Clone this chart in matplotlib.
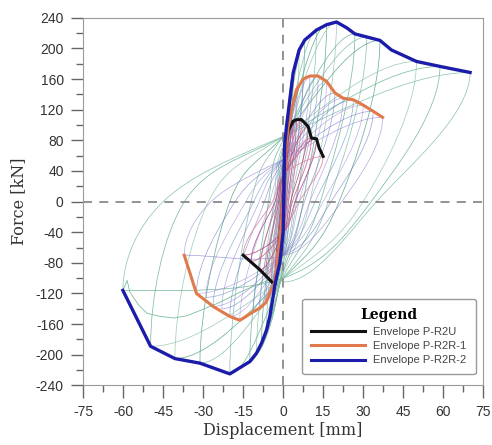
import matplotlib.pyplot as plt
from matplotlib.path import Path
from matplotlib.patches import PathPatch
from matplotlib.lines import Line2D

plt.rcParams['axes.unicode_minus'] = False

# ---- envelopes (displacement mm, force kN) ----
black_d = [-15.0, -8.75, -3.1, -1.9, -0.9, 0.0, 0.6, 1.9, 3.75, 5.0, 6.9, 9.4, 10.6, 12.5, 13.5, 15.0]
black_F = [-70, -89, -109, -80, -37, -5, 64, 92, 105, 107, 107, 98, 83, 82, 70, 59]

orange_d = [-37.1, -32.5, -26.25, -20.0, -16.25, -11.25, -8.75, -6.5, -4.4, -3.1, -1.5, 0.0, 1.0, 1.9, 3.1,
            5.0, 7.5, 10.0, 13.1, 16.3, 19.4, 22.5, 26.3, 30.0, 33.75, 37.3]
orange_F = [-70, -120, -137, -150, -155, -144, -139, -132, -114, -105, -60, 0, 70, 98, 120,
            146, 160, 164, 164, 157, 142, 135, 133, 126, 118, 110]

blue_d = [-60.1, -49.7, -40.6, -31.2, -20.0, -12.5, -10.0, -8.1, -6.25, -5.0, -3.75, -3.1, -1.25, 0.0,
          0.6, 1.25, 2.5, 3.75, 6.0, 8.1, 12.5, 16.3, 20.0, 23.8, 26.9, 31.3, 36.3, 40.6, 50.0, 58.8, 70.1]
blue_F = [-116, -189, -205, -211, -225, -209, -198, -185, -168, -150, -124, -109, -80, -40,
          76, 98, 133, 168, 198, 211, 224, 231, 234.5, 227, 219, 215, 210.5, 198, 183, 176.5, 168.6]

# ---- hysteresis cycles: peaks, zero-force crossings, force at zero displacement ----
g_pos_d = [1.25, 2.5, 3.75, 6.0, 8.1, 12.5, 16.3, 20.0, 26.9, 31.3, 36.3, 50.0, 58.8, 70.1]
g_pos_F = [98, 133, 168, 198, 211, 224, 231, 234.5, 219, 215, 210.5, 183, 176.5, 168.6]
g_unload_zero = [0.4, 0.8, 1.2, 2.0, 3.0, 5.0, 7.5, 10, 14, 17, 21, 30, 33, 35]
g_pinch_neg = [40, 55, 65, 75, 82, 88, 92, 95, 98, 100, 100, 100, 100, 105]
g_neg_d = [-1.25, -3.1, -3.75, -5.0, -6.25, -8.1, -10.0, -12.5, -20.0, -31.2, -40.6, -49.7, -60.1]
g_neg_F = [-80, -109, -124, -150, -168, -185, -198, -209, -225, -211, -205, -189, -116]
g_reload_zero = [-0.3, -0.6, -0.9, -1.3, -1.8, -2.5, -3.5, -5.5, -12, -20, -28, -37, -45]
g_pinch_pos = [30, 40, 50, 58, 65, 70, 75, 80, 85, 85, 85, 85, 85]
g_tail_d = [-60.1, -58.5, -57.5, -56, -54, -51, -46, -41, -36, -31, -24, -16, -8, -3]
g_tail_F = [-116, -103, -118, -126, -136, -146, -150, -152, -149, -142, -132, -118, -106, -100]

p_pos_d = [1.0, 1.9, 3.1, 5.0, 7.5, 10.0, 13.1, 16.3, 19.4, 22.5, 26.3, 30.0, 33.75, 37.3]
p_pos_F = [70, 98, 120, 146, 160, 164, 164, 157, 142, 135, 133, 126, 118, 110]
p_unload_zero = [0.3, 0.5, 0.8, 1.2, 2.0, 3.0, 4.5, 6, 8, 10, 12, 15, 18, 22]
p_pinch_neg = [25, 35, 45, 55, 60, 65, 68, 70, 70, 70, 70, 70, 70, 70]
p_neg_d = [-1.5, -3.1, -4.4, -6.5, -8.75, -11.25, -16.25, -20.0, -23.0, -26.25, -29.0, -32.5, -37.1]
p_neg_F = [-60, -105, -114, -132, -139, -144, -155, -150, -140, -137, -125, -120, -70]
p_reload_zero = [-0.3, -0.6, -0.9, -1.3, -2.0, -3.0, -5.0, -7, -9, -11, -14, -18, -27]
p_pinch_pos = [20, 28, 35, 40, 45, 48, 50, 52, 55, 55, 55, 55, 55]

r_pos_d = [0.3, 0.6, 1.2, 1.9, 3.75, 5.0, 6.9, 9.4, 10.6, 12.5, 15.0]
r_pos_F = [30, 64, 80, 92, 105, 107, 107, 98, 83, 82, 59]
r_unload_zero = [0.1, 0.2, 0.4, 0.6, 1.0, 1.5, 2.0, 2.8, 3.5, 4.5, 6.0]
r_pinch_neg = [10, 15, 20, 25, 30, 35, 38, 40, 40, 40, 40]
r_neg_d = [-0.3, -0.9, -1.5, -1.9, -3.1, -4.5, -6.5, -8.75, -12.0, -15.0]
r_neg_F = [-25, -37, -60, -80, -109, -104, -97, -89, -78, -70]
r_reload_zero = [-0.1, -0.2, -0.3, -0.5, -0.8, -1.2, -1.6, -2.2, -3.0, -4.0]
r_pinch_pos = [8, 12, 15, 20, 25, 28, 30, 32, 33, 35]


def branch(xs, ys):
    # smooth curve through the key points: leaves a peak vertically, reaches the next one flat
    n = len(xs)
    tx, ty = [], []
    for i in range(n):
        if i == 0:
            tx.append(0.0); ty.append(ys[1] - ys[0])
        elif i == n - 1:
            tx.append(xs[-1] - xs[-2]); ty.append(0.0)
        else:
            tx.append((xs[i + 1] - xs[i - 1]) / 2); ty.append((ys[i + 1] - ys[i - 1]) / 2)
    verts = [(xs[0], ys[0])]
    codes = [Path.MOVETO]
    for i in range(n - 1):
        verts += [(xs[i] + tx[i] / 3, ys[i] + ty[i] / 3),
                  (xs[i + 1] - tx[i + 1] / 3, ys[i + 1] - ty[i + 1] / 3),
                  (xs[i + 1], ys[i + 1])]
        codes += [Path.CURVE4] * 3
    return Path(verts, codes)


def draw_loops(ax, pos_d, pos_F, uz, pb, neg_d, neg_F, rz, pa, end, colors, lw, alpha):
    parts = [([0, pos_d[0]], [0, pos_F[0]])]
    for i in range(len(pos_d)):
        if i < len(neg_d):
            parts.append(([pos_d[i], uz[i], 0, neg_d[i]], [pos_F[i], 0, -pb[i], neg_F[i]]))
            if i + 1 < len(pos_d):
                parts.append(([neg_d[i], rz[i], 0, pos_d[i + 1]], [neg_F[i], 0, pa[i], pos_F[i + 1]]))
        else:
            parts.append(([pos_d[i], uz[i], end[0]], [pos_F[i], 0, end[1]]))
    for k, (xs, ys) in enumerate(parts):
        ax.add_patch(PathPatch(branch(xs, ys), fill=False, lw=lw, alpha=alpha,
                               edgecolor=colors[(k // 2) % len(colors)]))


fig = plt.figure(figsize=(4.92, 4.45), dpi=100)
ax = fig.add_axes([0.169, 0.134, 0.813, 0.826])

green = ['#6fb894', '#86bfae', '#5fa98a', '#9cc9b4']
purple = ['#6a6ec8', '#8a7cd4', '#6084c4', '#9a8ad8']
red = ['#c9587e', '#a8458c', '#de7d98', '#b94c62']

draw_loops(ax, g_pos_d, g_pos_F, g_unload_zero, g_pinch_neg, g_neg_d, g_neg_F,
           g_reload_zero, g_pinch_pos, (0, -105), green, 0.55, 0.9)
ax.plot(g_tail_d, g_tail_F, color='#6fb894', lw=0.55)
draw_loops(ax, p_pos_d, p_pos_F, p_unload_zero, p_pinch_neg, p_neg_d, p_neg_F,
           p_reload_zero, p_pinch_pos, (0, -70), purple, 0.5, 0.65)
draw_loops(ax, r_pos_d, r_pos_F, r_unload_zero, r_pinch_neg, r_neg_d, r_neg_F,
           r_reload_zero, r_pinch_pos, (0, -35), red, 0.6, 0.85)

ax.axhline(0, color='#8a8a8a', lw=1.3, ls=(0, (5, 4)), zorder=1)
ax.axvline(0, color='#8a8a8a', lw=1.3, ls=(0, (5, 4)), zorder=1)

ax.plot(black_d, black_F, color='#111111', lw=2.2, zorder=5)
ax.plot(orange_d, orange_F, color='#e07a4c', lw=2.2, zorder=5)
ax.plot(blue_d, blue_F, color='#1c1caa', lw=2.4, zorder=5)

ax.set_xlim(-75, 75)
ax.set_ylim(-240, 240)
ax.set_xticks(range(-75, 76, 15))
ax.set_xticks([x / 2 for x in range(-135, 136, 30)], minor=True)
ax.set_yticks(range(-240, 241, 40))
ax.set_yticks(range(-220, 221, 40), minor=True)
ax.tick_params(which='major', length=9, width=1, color='#666666', labelcolor='#333333',
               labelsize=10, pad=5)
ax.tick_params(which='minor', length=5, width=1, color='#666666')
for lab in ax.get_xticklabels() + ax.get_yticklabels():
    lab.set_family('Liberation Sans')
for s in ax.spines.values():
    s.set_color('#9a9a9a')

ax.set_xlabel('Displacement [mm]', family='DejaVu Serif', fontsize=11.5, color='#333333')
ax.set_ylabel('Force [kN]', family='DejaVu Serif', fontsize=11.5, color='#333333')
ax.xaxis.set_label_coords(0.5, -0.1)
ax.yaxis.set_label_coords(-0.14, 0.5)

handles = [Line2D([], [], color='#111111', lw=2.2),
           Line2D([], [], color='#e07a4c', lw=2.2),
           Line2D([], [], color='#1c1caa', lw=2.2)]
leg = ax.legend(handles, ['Envelope P-R2U', 'Envelope P-R2R-1', 'Envelope P-R2R-2'],
                loc='lower right', bbox_to_anchor=(0.995, 0.015), title='Legend',
                prop={'family': 'Liberation Sans', 'size': 8}, handlelength=4.8,
                labelspacing=0.4, fancybox=True, framealpha=1, edgecolor='#999999',
                borderpad=0.8)
leg.get_title().set_fontproperties({'family': 'DejaVu Serif', 'weight': 'bold', 'size': 10})
for t in leg.get_texts():
    t.set_color('#444444')

fig.savefig('out.png', dpi=100, facecolor='white')
